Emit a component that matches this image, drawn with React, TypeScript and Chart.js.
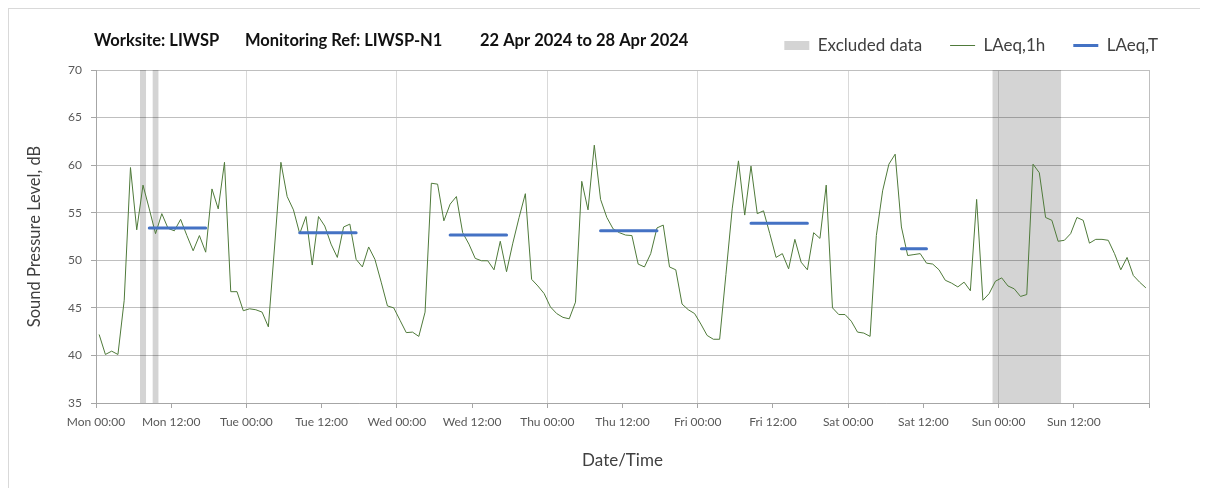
import React, { useEffect, useRef } from 'react';
import { Chart, registerables } from 'chart.js';

Chart.register(...registerables);

// ---------- data ----------
const TITLE_PARTS = ['Worksite: LIWSP', 'Monitoring Ref: LIWSP-N1', '22 Apr 2024 to 28 Apr 2024'];

const TICK_LABELS = [
  'Mon 00:00', 'Mon 12:00', 'Tue 00:00', 'Tue 12:00', 'Wed 00:00', 'Wed 12:00', 'Thu 00:00',
  'Thu 12:00', 'Fri 00:00', 'Fri 12:00', 'Sat 00:00', 'Sat 12:00', 'Sun 00:00', 'Sun 12:00',
];

// hourly LAeq,1h values, Mon 00:00 .. Sun 23:00
const LAEQ_MON = [42.2, 40.1, 40.45, 40.1, 45.8, 59.75, 53.2, 57.9, 55.4, 52.8, 54.9, 53.35, 53.1, 54.3, 52.6, 51.0, 52.6, 50.85, 57.5, 55.4, 60.3, 46.7, 46.7, 44.7];
const LAEQ_TUE = [44.9, 44.8, 44.55, 43.0, 51.5, 60.3, 56.7, 55.3, 52.8, 54.6, 49.5, 54.6, 53.6, 51.7, 50.3, 53.5, 53.8, 50.1, 49.3, 51.4, 50.1, 47.7, 45.2, 45.0];
const LAEQ_WED = [43.7, 42.4, 42.45, 42.0, 44.55, 58.1, 58.0, 54.15, 55.9, 56.7, 52.9, 51.7, 50.2, 49.95, 49.95, 49.0, 52.0, 48.8, 51.8, 54.5, 57.0, 48.0, 47.3, 46.5];
const LAEQ_THU = [45.1, 44.4, 44.0, 43.85, 45.6, 58.3, 55.3, 62.1, 56.4, 54.5, 53.3, 52.9, 52.65, 52.6, 49.6, 49.3, 50.7, 53.4, 53.7, 49.3, 49.0, 45.4, 44.8, 44.4];
const LAEQ_FRI = [43.3, 42.1, 41.7, 41.7, 48.5, 55.4, 60.45, 54.75, 59.9, 54.9, 55.2, 52.8, 50.3, 50.7, 49.1, 52.2, 49.8, 49.0, 52.9, 52.3, 57.9, 45.0, 44.3, 44.3];
const LAEQ_SAT = [43.6, 42.45, 42.35, 42.0, 52.6, 57.3, 60.1, 61.15, 53.5, 50.5, 50.6, 50.7, 49.7, 49.6, 49.0, 47.9, 47.6, 47.2, 47.7, 46.8, 56.4, 45.8, 46.5, 47.8];
const LAEQ_SUN = [48.15, 47.3, 47.0, 46.2, 46.4, 60.1, 59.2, 54.5, 54.2, 52.0, 52.1, 52.8, 54.5, 54.2, 51.8, 52.2, 52.2, 52.1, 50.7, 49.0, 50.3, 48.4, 47.7, 47.1];
const LAEQ_1H = [...LAEQ_MON, ...LAEQ_TUE, ...LAEQ_WED, ...LAEQ_THU, ...LAEQ_FRI, ...LAEQ_SAT, ...LAEQ_SUN];

// LAeq,T daytime periods (hour index from Mon 00:00)
const PERIOD_START = [8, 32, 56, 80, 104, 128];
const PERIOD_END = [17, 41, 65, 89, 113, 132];
const LAEQ_T = [53.4, 52.9, 52.65, 53.1, 53.9, 51.2];

// excluded periods (hours from Mon 00:00)
const EXCLUDED_START = [7, 9, 143];
const EXCLUDED_END = [8, 10, 154];

const HALF_HOUR = 0.5; // hourly values plotted at the middle of their hour

// ---------- styles ----------
const FONT = 'Lato';
const GREEN = '#4F7A3A';
const BLUE = '#4472C4';
const GREY_FILL = 'rgba(0,0,0,0.17)';
const TEXT = '#404040';
const TICK_TEXT = '#595959';
const AXIS = '#A6A6A6';

const headerTitle = {
  id: 'headerTitle',
  afterDraw(chart: any) {
    const ctx = chart.ctx;
    const xs = [85, 236, 471];
    ctx.save();
    ctx.font = `bold 16.5px ${FONT}`;
    ctx.fillStyle = '#111111';
    ctx.textBaseline = 'middle';
    TITLE_PARTS.forEach((t, i) => ctx.fillText(t, xs[i], 32));
    ctx.restore();
  },
};

export default function App() {
  const ref = useRef<HTMLCanvasElement | null>(null);

  useEffect(() => {
    if (!ref.current) return;

    const excludedData: any[] = [];
    EXCLUDED_START.forEach((s, i) => {
      excludedData.push({ x: s, y: 70 }, { x: EXCLUDED_END[i], y: 70 }, { x: EXCLUDED_END[i], y: null });
    });

    const hourlyData = LAEQ_1H.map((v, i) => ({ x: i + HALF_HOUR, y: v }));

    const periodData: any[] = [];
    PERIOD_START.forEach((s, i) => {
      periodData.push(
        { x: s + HALF_HOUR, y: LAEQ_T[i] },
        { x: PERIOD_END[i] + HALF_HOUR, y: LAEQ_T[i] },
        { x: PERIOD_END[i] + HALF_HOUR, y: null },
      );
    });

    const chart = new Chart(ref.current, {
      type: 'line',
      data: {
        datasets: [
          {
            label: 'Excluded data',
            data: excludedData,
            yAxisID: 'y',
            borderWidth: 0,
            borderColor: 'rgba(0,0,0,0)',
            backgroundColor: GREY_FILL,
            fill: 'start',
            pointRadius: 0,
            order: 2,
          },
          {
            label: 'LAeq,1h',
            data: hourlyData,
            yAxisID: 'y',
            borderColor: GREEN,
            borderWidth: 1,
            pointRadius: 0,
            tension: 0,
            order: 1,
          },
          {
            label: 'LAeq,T',
            data: periodData,
            yAxisID: 'y',
            borderColor: BLUE,
            borderWidth: 3,
            borderCapStyle: 'round',
            pointRadius: 0,
            order: 0,
          },
        ] as any,
      },
      options: {
        animation: false,
        responsive: true,
        maintainAspectRatio: false,
        events: [],
        layout: { padding: { top: 0, right: 14, bottom: 0, left: 0 } },
        font: { family: FONT },
        plugins: {
          tooltip: { enabled: false },
          title: { display: false },
          subtitle: { display: true, text: '', weight: 900, padding: 0, font: { size: 6, lineHeight: 1 } } as any,
          legend: {
            position: 'top',
            align: 'end',
            labels: {
              usePointStyle: true,
              pointStyleWidth: 25,
              boxHeight: 9,
              padding: 28,
              color: TEXT,
              font: { family: FONT, size: 17 },
              generateLabels: (c: any) =>
                c.data.datasets.map((ds: any, i: number) => ({
                  text: ds.label,
                  datasetIndex: i,
                  hidden: false,
                  fontColor: TEXT,
                  pointStyle: i === 0 ? 'rect' : 'line',
                  fillStyle: i === 0 ? ds.backgroundColor : 'rgba(0,0,0,0)',
                  strokeStyle: i === 0 ? 'rgba(0,0,0,0)' : ds.borderColor,
                  lineWidth: i === 0 ? 0 : ds.borderWidth,
                })),
            },
          },
        },
        scales: {
          x: {
            type: 'linear',
            min: 0,
            max: 168,
            afterFit: (s: any) => { s.height = 85; },
            ticks: {
              stepSize: 12,
              autoSkip: false,
              maxRotation: 0,
              padding: 7,
              color: TICK_TEXT,
              font: { family: FONT, size: 12 },
              callback: (v: any) => TICK_LABELS[Math.round(Number(v) / 12)] ?? '',
            },
            grid: {
              color: (c: any) => {
                const v = c.tick ? c.tick.value : 0;
                if (v % 24 !== 0) return 'rgba(0,0,0,0)';
                return v === 168 ? '#BFBFBF' : '#D9D9D9';
              },
              tickColor: AXIS,
              tickLength: 5,
            },
            border: { color: AXIS },
            title: {
              display: true,
              text: 'Date/Time',
              color: TEXT,
              font: { family: FONT, size: 17 },
              padding: { top: 0, bottom: 17 },
            },
          },
          y: {
            type: 'linear',
            min: 35,
            max: 70,
            afterFit: (s: any) => { s.width = 87; },
            ticks: {
              stepSize: 5,
              padding: 9,
              color: TICK_TEXT,
              font: { family: FONT, size: 12 },
            },
            grid: { color: '#BFBFBF', tickColor: AXIS, tickLength: 5 },
            border: { color: AXIS },
            title: {
              display: true,
              text: 'Sound Pressure Level, dB',
              color: TEXT,
              font: { family: FONT, size: 16.5 },
              padding: { top: 16, bottom: 0 },
            },
          },
          yR: {
            type: 'linear',
            position: 'right',
            display: true,
            afterFit: (s: any) => { s.width = 37; },
            ticks: { display: false },
            grid: { display: false, drawTicks: false },
            border: { display: false },
          },
        },
      } as any,
      plugins: [headerTitle],
    });

    return () => chart.destroy();
  }, []);

  return (
    <div
      style={{
        position: 'relative',
        width: 1191,
        height: 479,
        borderLeft: '1px solid #D9D9D9',
        borderTop: '1px solid #D9D9D9',
      }}
    >
      <canvas ref={ref} />
    </div>
  );
}
